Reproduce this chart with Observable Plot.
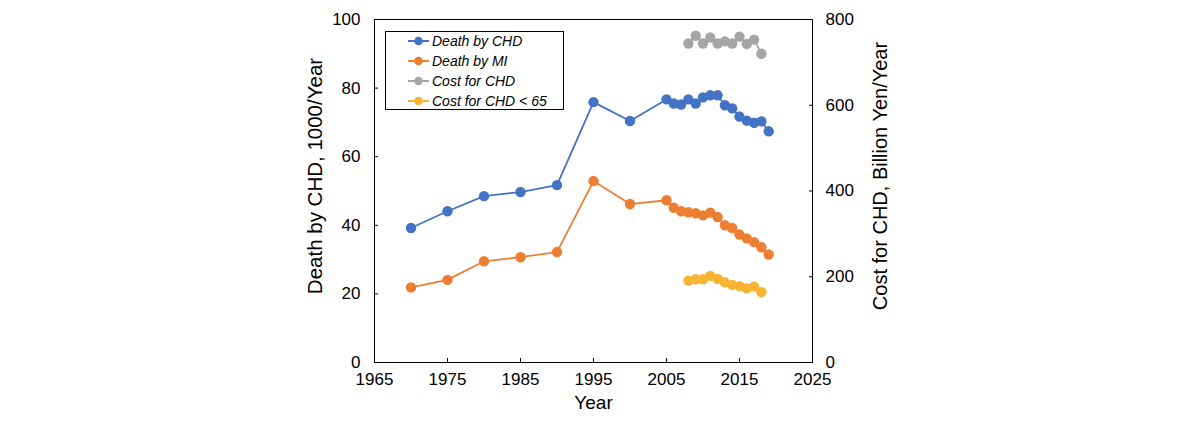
<!DOCTYPE html>
<html>
<head>
<meta charset="utf-8">
<script src="https://cdn.jsdelivr.net/npm/d3@7"></script>
<script src="https://cdn.jsdelivr.net/npm/@observablehq/plot@0.6"></script>
<style>
  body { margin: 0; background: #fff; font-family: "Liberation Sans", Arial, sans-serif; }
  #wrap { position: relative; width: 1191px; height: 425px; }
  #legend { position: absolute; left: 385px; top: 31px; width: 179px; height: 79px; border: 1px solid #000; background: #fff; box-sizing: border-box; }
  .item { position: absolute; left: 22px; height: 20px; display: flex; align-items: center; font-style: italic; font-size: 14px; color: #000; white-space: nowrap; }
  .item svg { margin-right: 2px; }
</style>
</head>
<body>
<div id="wrap"><div id="legend"></div></div>
<script>
const years = [1970,1975,1980,1985,1990,1995,2000,2005,2006,2007,2008,2009,2010,2011,2012,2013,2014,2015,2016,2017,2018,2019];
const deathCHD = [39.2,44.1,48.5,49.7,51.7,75.9,70.4,76.7,75.5,75.2,76.7,75.5,77.3,77.9,77.9,75.0,74.1,71.7,70.5,69.9,70.3,67.4];
const deathMI = [21.9,24.1,29.5,30.7,32.2,52.9,46.2,47.3,45.1,44.1,43.8,43.5,42.9,43.7,42.4,40.0,39.2,37.3,36.2,35.1,33.6,31.5];
const costYears = [2008,2009,2010,2011,2012,2013,2014,2015,2016,2017,2018];
const costCHD = [744,762,744,758,744,749,744,760,743,753,720];
const costCHD65 = [191,194,194,202,195,187,181,178,173,177,164];

const seriesNames = ["Death by CHD","Death by MI","Cost for CHD","Cost for CHD < 65"];
const seriesColors = ["#4472C4","#ED7D31","#A5A5A5","#F7B533"];

const xTicks = [1965,1975,1985,1995,2005,2015,2025];
const leftTicks = [0,20,40,60,80,100];
const rightTickLabels = [0,200,400,600,800];
const rightMax = 800, leftMax = 100;
const ratio = rightMax / leftMax;

const death1 = years.map((y,i) => ({year: y, v: deathCHD[i]}));
const death2 = years.map((y,i) => ({year: y, v: deathMI[i]}));
const cost1 = costYears.map((y,i) => ({year: y, v: costCHD[i] / ratio}));
const cost2 = costYears.map((y,i) => ({year: y, v: costCHD65[i] / ratio}));
const sets = [death1, death2, cost1, cost2];

const marks = [];
sets.forEach((d, i) => {
  marks.push(Plot.line(d, {x: "year", y: "v", stroke: seriesColors[i], strokeWidth: 1.8}));
  marks.push(Plot.dot(d, {x: "year", y: "v", fill: seriesColors[i], r: 5.2}));
});

const chart = Plot.plot({
  width: 1191,
  height: 425,
  marginLeft: 374,
  marginRight: 379,
  marginTop: 19,
  marginBottom: 63,
  style: {fontFamily: "Liberation Sans, Arial, sans-serif", color: "#000", background: "#fff"},
  x: {domain: [1965, 2025], label: null},
  y: {domain: [0, 100], label: null},
  marks: [
    ...marks,
    Plot.frame({stroke: "#000", strokeWidth: 1}),
    Plot.axisX({ticks: xTicks, tickFormat: d => String(d), tickSize: -4, tickPadding: 14, fontSize: 17, label: null}),
    Plot.axisY({anchor: "left", ticks: leftTicks, tickSize: -4, tickPadding: 18, fontSize: 17, label: null}),
    Plot.axisY({anchor: "right", ticks: rightTickLabels.map(t => t / ratio), tickFormat: d => String(Math.round(d * ratio)), tickSize: -4, tickPadding: 17, fontSize: 17, label: null}),
    Plot.text(["Death by CHD, 1000/Year"], {frameAnchor: "left", textAnchor: "middle", dx: -59, dy: -15, rotate: -90, fontSize: 20.5, fill: "#000"}),
    Plot.text(["Cost for CHD, Billion Yen/Year"], {frameAnchor: "right", textAnchor: "middle", dx: 68, dy: -15, rotate: -90, fontSize: 20, fill: "#000"}),
    Plot.text(["Year"], {frameAnchor: "bottom", dy: 46, fontSize: 19, fill: "#000"})
  ]
});
document.getElementById("wrap").prepend(chart);

const legend = document.getElementById("legend");
seriesNames.forEach((name, i) => {
  const div = document.createElement("div");
  div.className = "item";
  div.style.top = (-1 + i * 20) + "px";
  div.innerHTML = `<svg width="22" height="12"><line x1="0" y1="6" x2="21" y2="6" stroke="${seriesColors[i]}" stroke-width="2"/><circle cx="10.5" cy="6" r="4.3" fill="${seriesColors[i]}"/></svg><span>${name}</span>`;
  legend.appendChild(div);
});
</script>
</body>
</html>
